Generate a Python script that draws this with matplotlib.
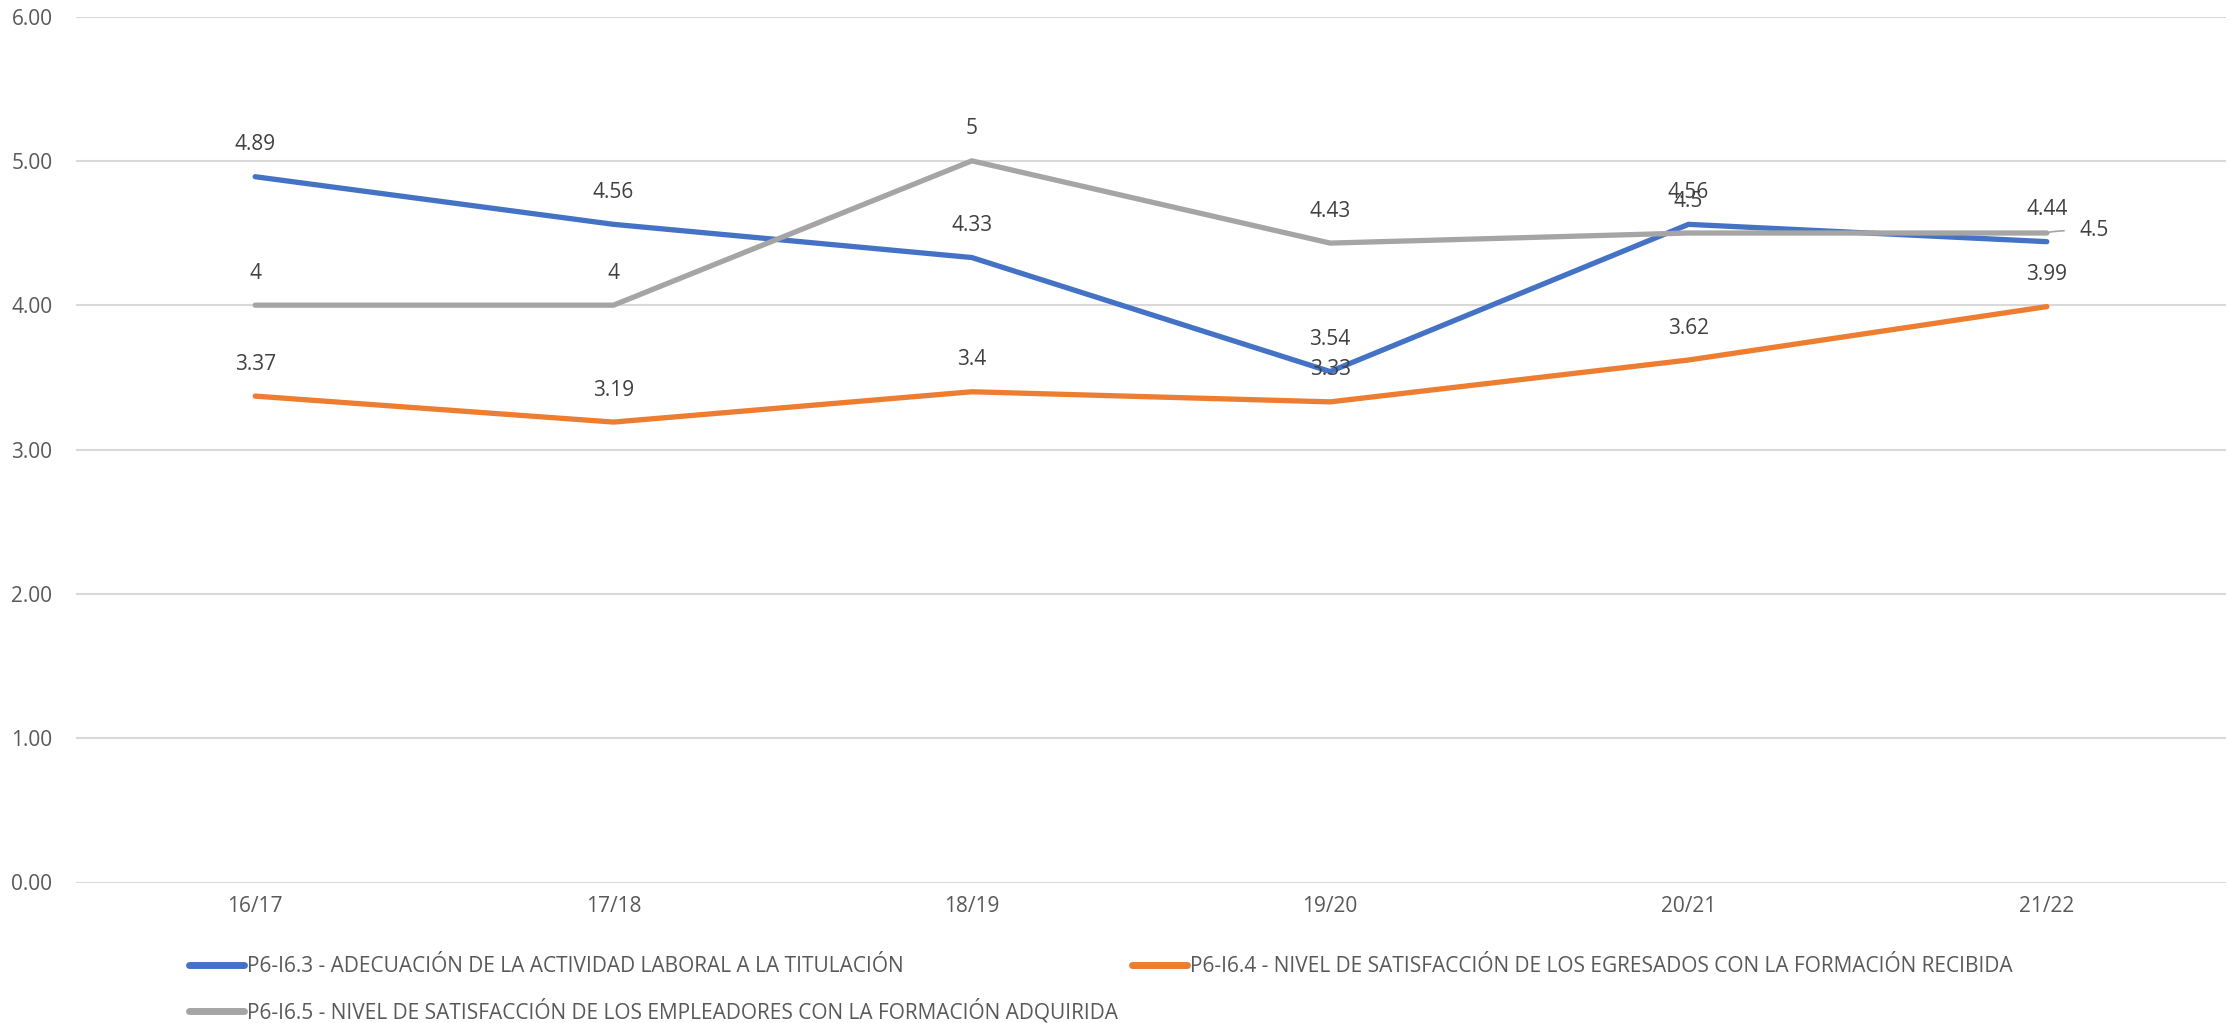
import matplotlib
matplotlib.use("Agg")
import matplotlib.pyplot as plt
from matplotlib.lines import Line2D

plt.rcParams['font.family'] = ['Open Sans', 'DejaVu Sans']

categories = ["16/17", "17/18", "18/19", "19/20", "20/21", "21/22"]
series_names = [
    "P6-I6.3 - ADECUACIÓN DE LA ACTIVIDAD LABORAL A LA TITULACIÓN",
    "P6-I6.4 - NIVEL DE SATISFACCIÓN DE LOS EGRESADOS CON LA FORMACIÓN RECIBIDA",
    "P6-I6.5 - NIVEL DE SATISFACCIÓN DE LOS EMPLEADORES CON LA FORMACIÓN ADQUIRIDA",
]
blue_vals = [4.89, 4.56, 4.33, 3.54, 4.56, 4.44]
orange_vals = [3.37, 3.19, 3.4, 3.33, 3.62, 3.99]
gray_vals = [4, 4, 5, 4.43, 4.5, 4.5]
colors = ["#4472C4", "#ED7D31", "#A5A5A5"]
yticks = [0, 1, 2, 3, 4, 5, 6]

W, H = 2229, 1023
fig = plt.figure(figsize=(W / 100, H / 100), dpi=100)
ax = fig.add_axes([76 / W, 1 - 882.5 / H, (2226 - 76) / W, (882.5 - 16.5) / H])

x = list(range(len(categories)))
all_vals = [blue_vals, orange_vals, gray_vals]
lines = []
for vals, c in zip(all_vals, colors):
    ln, = ax.plot(x, vals, color=c, lw=3.8, solid_capstyle='round',
                  solid_joinstyle='round', zorder=3)
    lines.append(ln)

fs = 15
label_color = "#404040"
for si, vals in enumerate(all_vals):
    for i, v in enumerate(vals):
        txt = f"{v:g}"
        if si == 2 and i == len(vals) - 1:
            ax.annotate(txt, xy=(i, v), xytext=(34, 2), textcoords='offset points',
                        ha='center', va='center', fontsize=fs, color=label_color,
                        zorder=6,
                        arrowprops=dict(arrowstyle='-', color='#A5A5A5', lw=1.2,
                                        shrinkA=9, shrinkB=1,
                                        connectionstyle='angle3,angleA=0,angleB=30'))
        else:
            ax.annotate(txt, xy=(i, v), xytext=(0, 23), textcoords='offset points',
                        ha='center', va='center', fontsize=fs, color=label_color,
                        zorder=6)

ax.set_xlim(-0.5, len(categories) - 0.5)
ax.set_ylim(0, 6)
ax.set_yticks(yticks)
ax.set_yticklabels([f"{t:.2f}" for t in yticks])
ax.set_xticks(x)
ax.set_xticklabels(categories)
ax.yaxis.grid(True, color="#D9D9D9", lw=1.5, zorder=0)
ax.set_axisbelow(True)
for s in ax.spines.values():
    s.set_visible(False)
ax.tick_params(axis='both', length=0, labelsize=fs, labelcolor="#595959")
ax.tick_params(axis='y', pad=17)
ax.tick_params(axis='x', pad=10)

# Legend: three entries placed as in the reference
fs_px = fs * 100 / 72
positions = [(189, 967), (1132, 967), (189, 1011)]
for ln, name, (px, py) in zip(lines, series_names, positions):
    h = Line2D([], [], color=ln.get_color(), lw=5, solid_capstyle='round')
    fig.legend(handles=[h], labels=[name], loc='center left',
               bbox_to_anchor=(px / W, 1 - py / H), frameon=False,
               borderpad=0, borderaxespad=0, handlelength=55 / fs_px,
               handletextpad=3 / fs_px, fontsize=fs, labelcolor="#595959")

fig.savefig("out.png", dpi=100, facecolor="white")
